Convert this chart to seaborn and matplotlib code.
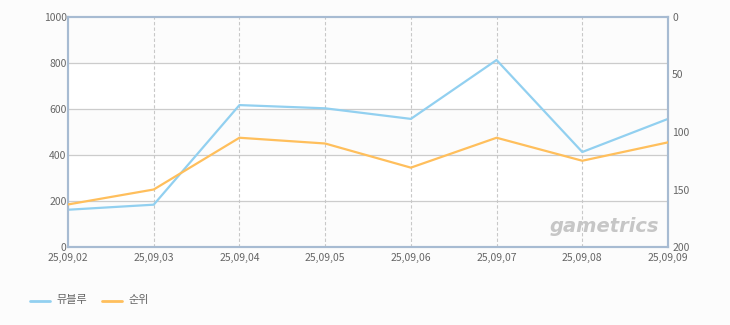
import matplotlib
matplotlib.use("Agg")
import matplotlib.pyplot as plt
import seaborn as sns
import pandas as pd

dates = ["25,09,02", "25,09,03", "25,09,04", "25,09,05", "25,09,06", "25,09,07", "25,09,08", "25,09,09"]
viewers = [162, 184, 617, 603, 557, 813, 413, 557]
rank = [163, 150, 105, 110, 131, 105, 125, 109]
left_ticks = [0, 200, 400, 600, 800, 1000]
right_ticks = [0, 50, 100, 150, 200]
series_names = ["뮤블루", "순위"]

sns.set_theme(style="white")
plt.rcParams['font.family'] = ['Noto Sans CJK KR', 'DejaVu Sans']

BLUE = "#92d0f0"
ORANGE = "#ffbf5c"
SPINE = "#a7bbd2"
TXT = "#666666"

df = pd.DataFrame({"x": list(range(len(dates))), "v": viewers, "r": rank})

fig = plt.figure(figsize=(7.3, 3.25), dpi=100, facecolor="#fcfcfc")
ax = fig.add_axes([68/730, 78/325, 600/730, 230/325])
ax.set_facecolor("#fcfcfc")
# alternating bands
for i in range(len(left_ticks) - 1):
    if i % 2 == 1:
        ax.axhspan(left_ticks[i], left_ticks[i+1], color="white", zorder=0)
for t in left_ticks[1:-1]:
    ax.axhline(t, color="#cccccc", lw=0.9, zorder=1)
for i in range(1, len(dates) - 1):
    ax.axvline(i, color="#c8c8c8", lw=0.8, ls=(0, (3, 2)), zorder=1)

sns.lineplot(data=df, x="x", y="v", ax=ax, color=BLUE, lw=1.6, zorder=3, legend=False)
ax.set_xlim(0, len(dates) - 1)
ax.set_ylim(0, 1000)
ax.set_xticks(range(len(dates)))
ax.set_xticklabels(dates)
ax.set_yticks(left_ticks)
ax.set_xlabel("")
ax.set_ylabel("")
ax.tick_params(axis="y", labelsize=7.5, colors=TXT, length=0, pad=1)
ax.tick_params(axis="x", labelsize=7.5, colors=TXT, length=0, pad=4)

ax2 = ax.twinx()
sns.lineplot(data=df, x="x", y="r", ax=ax2, color=ORANGE, lw=1.6, zorder=3, legend=False)
ax2.set_ylim(200, 0)
ax2.set_yticks(right_ticks)
ax2.set_ylabel("")
ax2.tick_params(axis="y", labelsize=7.5, colors=TXT, length=0, pad=3)
ax.set_zorder(0)
ax2.set_zorder(1)
ax2.patch.set_visible(False)

for a in (ax, ax2):
    for s in a.spines.values():
        s.set_color(SPINE)
        s.set_linewidth(1.5)

ax.text(0.985, 0.09, "gametrics", transform=ax.transAxes, ha="right", va="center",
        fontsize=14, fontstyle="italic", fontweight="bold", color="#c6c6c6",
        family=["DejaVu Sans"], zorder=2)

# legend
fig.lines.append(plt.Line2D([30/730, 50/730], [1 - 301/325] * 2, color=BLUE, lw=2, transform=fig.transFigure))
fig.text(56/730, 1 - 300/325, series_names[0], fontsize=8, color=TXT, va="center")
fig.lines.append(plt.Line2D([102/730, 122/730], [1 - 301/325] * 2, color=ORANGE, lw=2, transform=fig.transFigure))
fig.text(128/730, 1 - 300/325, series_names[1], fontsize=8, color=TXT, va="center")

fig.savefig("out.png", dpi=100, facecolor=fig.get_facecolor())
